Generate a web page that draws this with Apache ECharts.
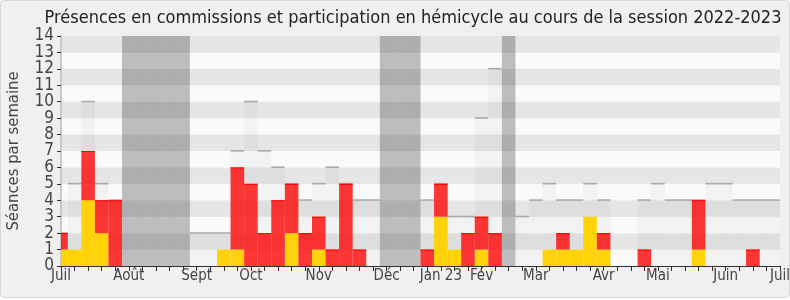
<!DOCTYPE html>
<html>
<head>
<meta charset="utf-8">
<script src="https://cdn.jsdelivr.net/npm/echarts@6/dist/echarts.min.js"></script>
<style>
html,body{margin:0;padding:0;background:#fff;}
#frame{position:absolute;left:0;top:0;width:788px;height:296px;background:#f0f0f0;border:1px solid #d8d8d8;border-radius:4px;}
#chart{position:absolute;left:0;top:0;width:790px;height:300px;}
</style>
</head>
<body>
<div id="frame"></div>
<div id="chart"></div>
<script>
// Week index (0 = first week of July 2022)
var weeks = [0,1,2,3,4,5,6,7,8,9,10,11,12,13,14,15,16,17,18,19,20,21,22,23,24,25,26,27,28,29,30,31,32,33,34,35,36,37,38,39,40,41,42,43,44,45,46,47,48,49,50,51,52,53];
// Participation en hémicycle (yellow)
var hemicycle = [1,1,4,2,0,0,0,0,0,0,0,0,1,1,0,0,0,2,0,1,0,0,0,0,0,0,0,0,3,1,0,1,0,0,0,0,1,1,1,3,1,0,0,0,0,0,0,1,0,0,0,0,0,0];
// Présences en commissions (red, stacked on yellow)
var commissions = [1,0,3,2,4,0,0,0,0,0,0,0,0,5,5,2,4,3,2,2,1,5,1,0,0,0,0,1,2,0,2,2,2,0,0,0,0,1,0,0,1,0,0,1,0,0,0,3,0,0,0,1,0,0];
// Présences en hémicycle (light grey background bars)
var presences = [2,5,10,5,4,0,0,0,0,0,2,2,2,7,10,7,6,5,4,5,6,5,4,4,0,0,0,4,5,3,3,9,12,0,3,4,5,4,4,5,4,0,0,4,5,4,4,4,5,5,4,4,4,4];
// Vacances parlementaires (dark grey bands)
var vacances = [5,6,7,8,9,24,25,26,33];
// Month labels on the x axis
var monthPos = [0,5,10,14,19,24,28,31,35,40,44,49,53];
var monthLabels = ['Juil','Août','Sept','Oct','Nov','Déc','Jan 23','Fév','Mar','Avr','Mai','Juin','Juil'];
var yTicks = [0,1,2,3,4,5,6,7,8,9,10,11,12,13,14];

var FONT = 'DejaVu Sans Condensed';
var chart = echarts.init(document.getElementById('chart'), null, {renderer:'canvas'});

function clipRect(r, params){
  return echarts.graphic.clipRectByRect(r, {
    x: params.coordSys.x, y: params.coordSys.y,
    width: params.coordSys.width, height: params.coordSys.height
  });
}

function barRect(api, params, i, y0, y1){
  var p0 = api.coord([i - 0.5, y0]);
  var p1 = api.coord([i + 0.5, y1]);
  return clipRect({x:p0[0], y:p1[1], width:p1[0]-p0[0], height:p0[1]-p1[1]}, params);
}

var presData = weeks.map(function(w, k){ return [w, presences[k]]; });
var hemiData = weeks.map(function(w, k){ return [w, hemicycle[k]]; });
var commData = weeks.map(function(w, k){ return [w, hemicycle[k], hemicycle[k] + commissions[k]]; });
var vacData = vacances.map(function(w){ return [w, 14]; });

var yLabelStyle = {fontFamily: FONT, fontSize: 17, color: '#444', margin: 7, hideOverlap: false};
function yLabelFormatter(parity){
  return function(v){ return (yTicks.indexOf(v) >= 0 && v % 2 === parity) ? String(v) : ''; };
}

var option = {
  animation: false,
  backgroundColor: 'transparent',
  title: {
    text: 'Présences en commissions et participation en hémicycle au cours de la session 2022-2023',
    left: 408, top: 4, textAlign: 'center',
    textStyle: {fontFamily: FONT, fontSize: 18, fontWeight: 'normal', color: '#222'}
  },
  grid: {left: 61, right: 10, top: 36, bottom: 34, show: false, containLabel: false, outerBoundsMode: 'none'},
  xAxis: [{
    type: 'value', min: 0, max: 53, interval: 1,
    axisLine: {show: true, lineStyle: {color: '#333', width: 1}},
    axisTick: {show: true, length: 5, lineStyle: {color: '#333'}},
    axisLabel: {
      show: true, customValues: monthPos, margin: 3, hideOverlap: false,
      showMinLabel: true, showMaxLabel: true,
      fontFamily: FONT, fontSize: 15, color: '#444',
      formatter: function(v){ var k = monthPos.indexOf(Math.round(v)); return k >= 0 ? monthLabels[k] : ''; }
    },
    splitLine: {show: false}
  }, {
    type: 'value', min: 0, max: 53, interval: 1, position: 'top',
    axisLine: {show: false},
    axisTick: {show: true, inside: true, length: 1.5, lineStyle: {color: '#222'}},
    axisLabel: {show: false},
    splitLine: {show: false}
  }],
  yAxis: [{
    type: 'value', min: 0, max: 14, interval: 1, position: 'left',
    name: 'Séances par semaine', nameLocation: 'middle', nameGap: 39,
    nameTextStyle: {fontFamily: FONT, fontSize: 16.5, color: '#444'},
    nameMoveOverlap: false,
    axisLine: {show: true, lineStyle: {color: '#333'}},
    axisTick: {show: true, length: 4, lineStyle: {color: '#333'}},
    axisLabel: Object.assign({formatter: yLabelFormatter(0)}, yLabelStyle),
    splitLine: {show: false},
    splitArea: {show: true, areaStyle: {color: ['#fafafa', '#e6e6e6']}}
  }, {
    type: 'value', min: 0, max: 14, interval: 1, position: 'right',
    axisLine: {show: true, lineStyle: {color: '#c8c8c8', width: 2}},
    axisTick: {show: false}, axisLabel: {show: false}, splitLine: {show: false}
  }, {
    type: 'value', min: 0, max: 14, interval: 1, position: 'left', offset: 0,
    axisLine: {show: false}, axisTick: {show: false},
    axisLabel: Object.assign({formatter: yLabelFormatter(1)}, yLabelStyle),
    splitLine: {show: false}
  }],
  series: [{
    type: 'custom', name: 'Présences hémicycle', data: presData, z: 2,
    renderItem: function(params, api){
      var i = api.value(0), v = api.value(1);
      if (!v) return;
      var r = barRect(api, params, i, 0, v);
      if (!r) return;
      return {type: 'group', children: [
        {type: 'rect', shape: r, style: {fill: 'rgba(0,0,0,0.03)'}},
        {type: 'rect', shape: {x: r.x, y: r.y - 1, width: r.width, height: 1.6}, style: {fill: '#aaaaaa'}}
      ]};
    }
  }, {
    type: 'custom', name: 'Vacances', data: vacData, z: 3,
    renderItem: function(params, api){
      var r = barRect(api, params, api.value(0), 0, api.value(1));
      if (!r) return;
      return {type: 'rect', shape: r, style: {fill: 'rgba(0,0,0,0.245)'}};
    }
  }, {
    type: 'custom', name: 'Hémicycle', data: hemiData, z: 4,
    renderItem: function(params, api){
      var v = api.value(1);
      if (!v) return;
      var r = barRect(api, params, api.value(0), 0, v);
      if (!r) return;
      return {type: 'rect', shape: r, style: {fill: '#ffd20a'}};
    }
  }, {
    type: 'custom', name: 'Commissions', data: commData, z: 5,
    renderItem: function(params, api){
      var y0 = api.value(1), y1 = api.value(2);
      if (y1 <= y0) return;
      var r = barRect(api, params, api.value(0), y0, y1);
      if (!r) return;
      return {type: 'group', children: [
        {type: 'rect', shape: r, style: {fill: 'rgba(255,0,0,0.78)'}},
        {type: 'rect', shape: {x: r.x, y: r.y, width: r.width, height: 1}, style: {fill: '#ff0000'}}
      ]};
    }
  }]
};
chart.setOption(option);
</script>
</body>
</html>
